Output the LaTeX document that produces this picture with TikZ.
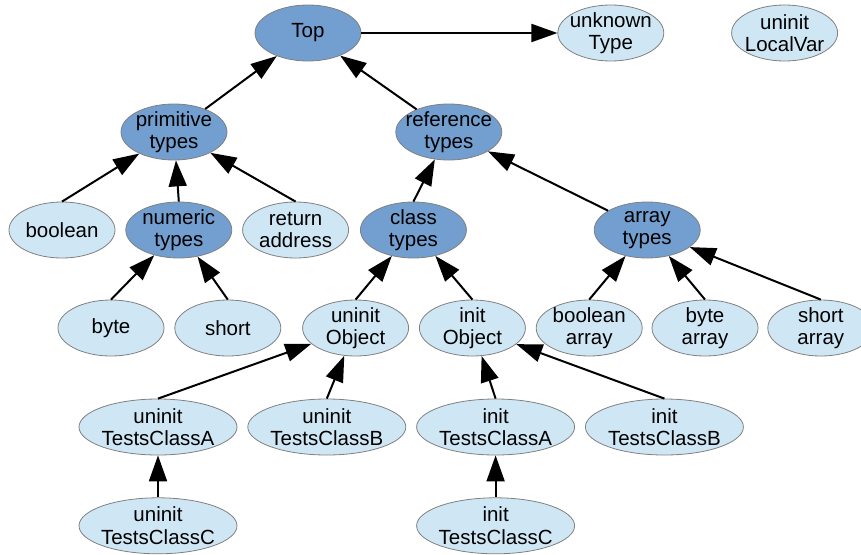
\documentclass[tikz,border=0pt]{standalone}
\usepackage{fontspec}
\setmainfont{Liberation Sans}
\usepackage{tikz}
\usepackage{xcolor}
\usetikzlibrary{positioning,shapes.geometric,arrows.meta}
\definecolor{darkblue}{HTML}{729FCF}
\definecolor{lightblue}{HTML}{CFE7F5}
\definecolor{rimgray}{HTML}{808080}

\begin{document}
\begin{tikzpicture}
[x=1pt, y=-1pt,
type-a/.style={ellipse, draw=rimgray, line width=0.8pt, fill=darkblue, minimum width=106pt, minimum height=56pt, inner xsep=-12pt, inner ysep=-2pt, align=center, font=\fontsize{20.5}{22.5}\selectfont},
type-b/.style={type-a, fill=lightblue},
type-c/.style={type-b, minimum width=158pt},
edge-a/.style={-{Triangle[length=26pt, width=18pt]}, line width=2pt},]
\useasboundingbox (0,0) rectangle (861,554);
%row 1
\node (top)        [type-a] at (308,33)                    {Top};
\node (unknown)    [type-b, right = 196pt of top]          {unknown\\Type};
\node (localvar)   [type-b, right = 67pt of unknown]       {uninit\\LocalVar};
%row 2
\node (prim)       [type-a] at (174,132)                   {primitive\\types};
\node (ref)        [type-a, right = 168pt of prim]         {reference\\types};
%row 3
\node (boolean)    [type-b] at (62,230)                    {boolean};
\node (numeric)    [type-a, right = 10pt of boolean]       {numeric\\types};
\node (retaddr)    [type-b, right = 10pt of numeric]       {return\\address};
\node (classty)    [type-a, right = 11pt of retaddr]       {class\\types};
\node (arrayty)    [type-a, right = 127pt of classty]      {array\\types};
%row 4
\node (byte)       [type-b] at (111,328)                   {byte};
\node (short)      [type-b, right = 10pt of byte]          {short};
\node (uninitobj)  [type-b, right = 21pt of short]         {uninit\\Object};
\node (initobj)    [type-b, right = 10pt of uninitobj]     {init\\Object};
\node (boolarr)    [type-b, right = 10pt of initobj]       {boolean\\array};
\node (bytearr)    [type-b, right = 9pt of boolarr]        {byte\\array};
\node (shortarr)   [type-b, right = 9pt of bytearr]        {short\\array};
%row 5
\node (uninita)    [type-c] at (158,427)                   {uninit\\TestsClassA};
\node (uninitb)    [type-c, right = 10pt of uninita]       {uninit\\TestsClassB};
\node (inita)      [type-c, right = 10pt of uninitb]       {init\\TestsClassA};
\node (initb)      [type-c, right = 10pt of inita]         {init\\TestsClassB};
%row 6
\node (uninitc)    [type-c, below = 42pt of uninita]       {uninit\\TestsClassC};
\node (initc)      [type-c, below = 42pt of inita]         {init\\TestsClassC};
%edges
\draw [edge-a] (top) -- (unknown);
\draw [edge-a] (prim) -- (top);
\draw [edge-a] (ref) -- (top);
\draw [edge-a] (boolean.north) -- (prim);
\draw [edge-a] (numeric.north) -- (prim);
\draw [edge-a] (retaddr.north) -- (prim);
\draw [edge-a] (classty.north) -- (ref);
\draw [edge-a] (arrayty) -- (ref);
\draw [edge-a] (byte.north) -- (numeric);
\draw [edge-a] (short.north) -- (numeric);
\draw [edge-a] (uninitobj.north) -- (classty);
\draw [edge-a] (initobj.north) -- (classty);
\draw [edge-a] (boolarr.north) -- (arrayty);
\draw [edge-a] (bytearr.north) -- (arrayty);
\draw [edge-a] (shortarr.north) -- (arrayty);
\draw [edge-a] (uninita.north) -- (uninitobj);
\draw [edge-a] (uninitb.north) -- (uninitobj);
\draw [edge-a] (inita.north) -- (initobj);
\draw [edge-a] (initb.north) -- (initobj);
\draw [edge-a] (uninitc.north) -- (uninita);
\draw [edge-a] (initc.north) -- (inita);
\end{tikzpicture}
\end{document}
